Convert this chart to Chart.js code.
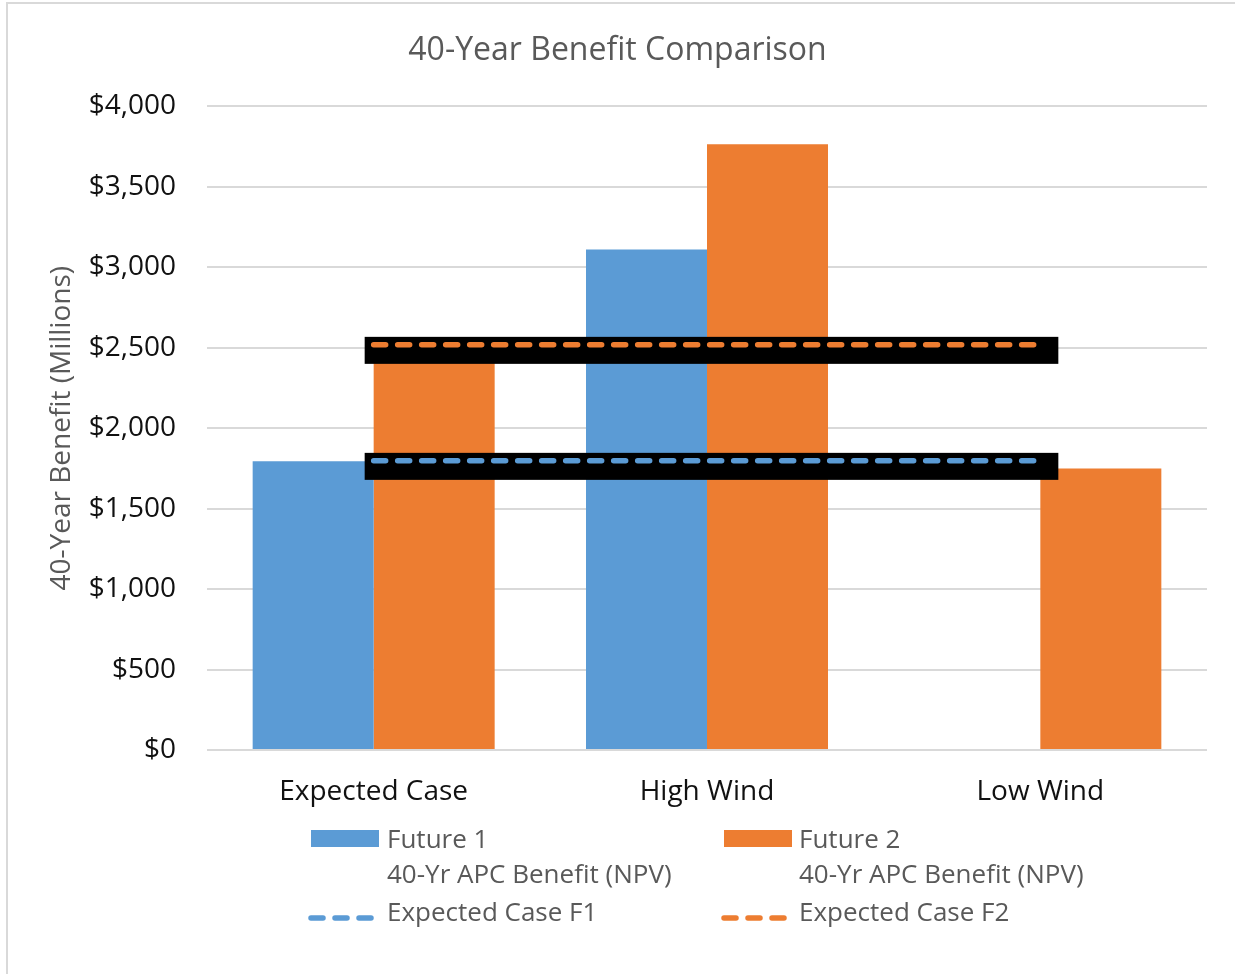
<!DOCTYPE html>
<html>
<head>
<meta charset="utf-8">
<title>40-Year Benefit Comparison</title>
<script src="https://cdn.jsdelivr.net/npm/chart.js@4.4.0/dist/chart.umd.min.js"></script>
<style>
    body {
        margin: 0;
        background: #ffffff;
        font-family: 'Open Sans', sans-serif;
    }
    #page {
        position: relative;
        width: 1235px;
        height: 974px;
        overflow: hidden;
    }
    #frame {
        position: absolute;
        left: 6px;
        top: 2px;
        width: 1300px;
        height: 1000px;
        border-left: 2px solid #d9d9d9;
        border-top: 2px solid #d9d9d9;
    }
    #benefitChart {
        position: absolute;
        left: 0;
        top: 0;
    }
    .legend-text {
        position: absolute;
        font-size: 26px;
        line-height: 30px;
        color: #595959;
        white-space: nowrap;
    }
    .legend-box {
        position: absolute;
        width: 68px;
        height: 17px;
    }
    .legend-dash {
        position: absolute;
        width: 70px;
        height: 10px;
    }
</style>
</head>
<body>
<div id="page">
    <div id="frame"></div>
    <canvas id="benefitChart" width="1235" height="974"></canvas>
    <div id="legend"></div>
</div>

<script>
const categories = ['Expected Case', 'High Wind', 'Low Wind'];
const future1 = [1795, 3110, 0];
const future2 = [2520, 3765, 1750];
const expectedF1 = [1797, 1797, 1797];
const expectedF2 = [2518, 2518, 2518];
const yTicks = [0, 500, 1000, 1500, 2000, 2500, 3000, 3500, 4000];

const blue = '#5b9bd5';
const orange = '#ed7d31';

Chart.defaults.font.family = "'Open Sans', sans-serif";

// black band behind the dashed lines (the shadow in the original)
const bandPlugin = {
    id: 'band',
    beforeDatasetDraw(chart, args) {
        const ds = chart.data.datasets[args.index];
        if (!ds.band) return;
        const pts = args.meta.data;
        const first = pts[0];
        const last = pts[pts.length - 1];
        const ctx = chart.ctx;
        ctx.save();
        ctx.fillStyle = '#000000';
        ctx.fillRect(first.x - 9, first.y - 8, (last.x + 18) - (first.x - 9), 27);
        ctx.restore();
    }
};

function createChart() {
    const canvas = document.getElementById('benefitChart');
    return new Chart(canvas, {
        type: 'bar',
        data: {
            labels: categories,
            datasets: [
                {
                    type: 'line',
                    label: 'Expected Case F1',
                    data: expectedF1,
                    borderColor: blue,
                    borderWidth: 5.5,
                    borderDash: [12, 12],
                    borderCapStyle: 'round',
                    pointRadius: 0,
                    fill: false,
                    band: true,
                    order: 0
                },
                {
                    type: 'line',
                    label: 'Expected Case F2',
                    data: expectedF2,
                    borderColor: orange,
                    borderWidth: 5.5,
                    borderDash: [12, 12],
                    borderCapStyle: 'round',
                    pointRadius: 0,
                    fill: false,
                    band: true,
                    order: 0
                },
                {
                    label: 'Future 1 40-Yr APC Benefit (NPV)',
                    data: future1,
                    backgroundColor: blue,
                    borderWidth: 0,
                    categoryPercentage: 0.726,
                    barPercentage: 1,
                    order: 1
                },
                {
                    label: 'Future 2 40-Yr APC Benefit (NPV)',
                    data: future2,
                    backgroundColor: orange,
                    borderWidth: 0,
                    categoryPercentage: 0.726,
                    barPercentage: 1,
                    order: 1
                }
            ]
        },
        options: {
            responsive: false,
            animation: false,
            layout: {
                padding: { left: 28, right: 28, top: 0, bottom: 164 }
            },
            plugins: {
                legend: { display: false },
                tooltip: { enabled: false },
                title: {
                    display: true,
                    text: '40-Year Benefit Comparison',
                    color: '#595959',
                    font: { size: 32, weight: 'normal' },
                    padding: { top: 32, bottom: 36 }
                }
            },
            scales: {
                x: {
                    grid: { display: false, drawTicks: false },
                    border: { display: false },
                    ticks: {
                        color: '#111111',
                        font: { size: 28 },
                        padding: 25
                    },
                    afterFit(scale) {
                        scale.height = 60;
                    }
                },
                y: {
                    min: 0,
                    max: 4000,
                    afterBuildTicks(scale) {
                        scale.ticks = yTicks.map(v => ({ value: v }));
                    },
                    grid: { color: '#d9d9d9', lineWidth: 2, drawTicks: false },
                    border: { display: false },
                    ticks: {
                        color: '#111111',
                        font: { size: 28 },
                        padding: 31,
                        callback: value => '$' + value.toLocaleString('en-US')
                    },
                    title: {
                        display: true,
                        text: '40-Year Benefit (Millions)',
                        color: '#595959',
                        font: { size: 28 },
                        padding: { top: 17, bottom: 0 }
                    },
                    afterFit(scale) {
                        scale.width = 179;
                    }
                }
            }
        },
        plugins: [bandPlugin]
    });
}

function dashSvg(color) {
    return '<svg width="70" height="10"><line x1="3" y1="5" x2="66" y2="5" stroke="' + color +
        '" stroke-width="5.5" stroke-dasharray="12 12" stroke-linecap="round"/></svg>';
}

function buildLegend() {
    const legend = document.getElementById('legend');
    const columns = [
        { box: 311, text: 387, color: blue, name: 'Future 1', line: 'Expected Case F1' },
        { box: 724, text: 799, color: orange, name: 'Future 2', line: 'Expected Case F2' }
    ];
    let html = '';
    for (const col of columns) {
        html += `<div class="legend-box" style="left:${col.box}px;top:830px;background:${col.color}"></div>`;
        html += `<div class="legend-text" style="left:${col.text}px;top:823px">${col.name}</div>`;
        html += `<div class="legend-text" style="left:${col.text}px;top:858px">40-Yr APC Benefit (NPV)</div>`;
        html += `<div class="legend-dash" style="left:${col.box - 3}px;top:906px">${dashSvg(col.color)}</div>`;
        html += `<div class="legend-text" style="left:${col.text}px;top:896px">${col.line}</div>`;
    }
    legend.innerHTML = html;
}

createChart();
buildLegend();
</script>
</body>
</html>
